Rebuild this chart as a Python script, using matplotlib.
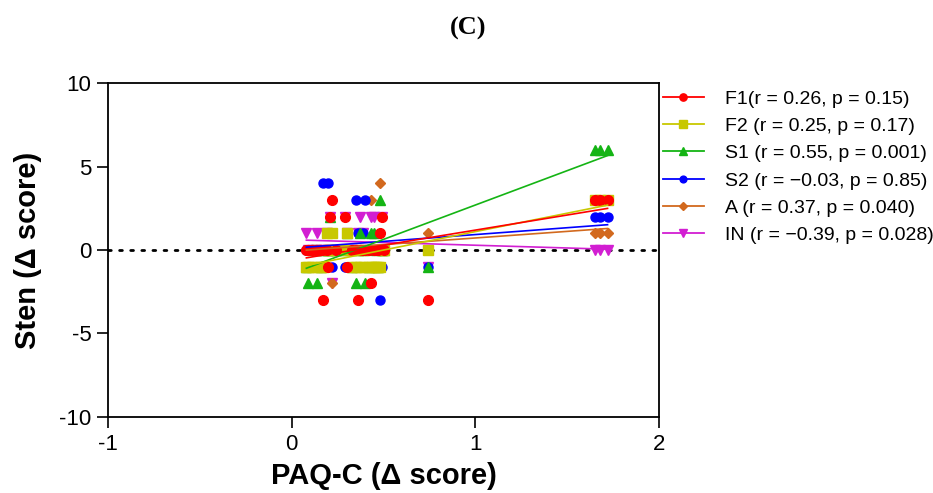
import numpy as np
import matplotlib
matplotlib.use('Agg')
import matplotlib.pyplot as plt
from matplotlib.lines import Line2D

plt.rcParams['font.family'] = ['Liberation Sans', 'DejaVu Sans']

# PAQ-C change per participant (shared by all six subscales)
paq_c = [0.08, 0.09, 0.11, 0.13, 0.14, 0.16, 0.17, 0.19, 0.20, 0.21, 0.22, 0.24,
         0.29, 0.30, 0.33, 0.35, 0.36, 0.37, 0.39, 0.40, 0.42, 0.43, 0.45, 0.46,
         0.47, 0.48, 0.49, 0.50, 0.74, 1.65, 1.68, 1.72]

# sten change per subscale
f1 = [0, 0, 0, 0, 0, 0, -3, 0, -1, 2, 3, 0, 2, -1, 0, 0, -3, 0, 0, 0, 0, -2, 0, 0,
      0, 1, 2, 0, -3, 3, 3, 3]
f2 = [-1, -1, -1, 0, -1, -1, -1, 1, 0, 0, 1, 0, 0, 1, -1, -1, 0, -1, -1, 0, -1, -1, -1, -1,
      -1, -1, 0, 0, 0, 3, 3, 3]
s1 = [-1, -2, 0, 0, -2, -1, 0, 0, 0, 2, 0, 0, 0, 1, -1, -2, 0, 1, 0, -2, -1, 1, 1, 0,
      -1, 3, 0, 0, -1, 6, 6, 6]
s2 = [0, 0, 0, 0, 0, 0, 4, 0, 4, 0, -1, 0, -1, 0, 0, 3, 1, 0, 1, 3, 0, 0, 0, 0,
      0, -3, -1, 0, -1, 2, 2, 2]
a = [0, 0, 0, 0, 0, 0, 0, 0, 0, 0, -2, 0, 0, 0, 0, 0, 0, 0, 0, 0, 0, 3, 0, 0,
     0, 4, 0, 0, 1, 1, 1, 1]
inn = [1, 0, 0, 0, 1, 0, 0, 1, 0, 2, -2, 0, 2, 1, 0, 0, 1, 2, 1, 0, 0, 2, 2, 0,
       0, 0, 2, 0, -1, 0, 0, 0]

labels = ['F1(r = 0.26, p = 0.15)', 'F2 (r = 0.25, p = 0.17)', 'S1 (r = 0.55, p = 0.001)',
          'S2 (r = \u22120.03, p = 0.85)', 'A (r = 0.37, p = 0.040)', 'IN (r = \u22120.39, p = 0.028)']

series = [f1, f2, s1, s2, a, inn]
colors = ['#ff0000', '#c8c800', '#14b414', '#0000ff', '#d2691e', '#d21ed2']
markers = ['o', 's', '^', 'o', 'D', 'v']
msizes = [7, 7, 7, 6.5, 5, 7]

fig = plt.figure(figsize=(9.33, 4.93), dpi=100)
ax = fig.add_axes([0.1158, 0.1542, 0.5905, 0.6774])

ax.axhline(0, color='black', linestyle=(0, (1, 3)), lw=2, dash_capstyle='round', zorder=1)

x = np.array(paq_c)
# draw last series first so F1 sits on top
for i in reversed(range(len(series))):
    y = np.array(series[i])
    ax.plot(x, y, linestyle='none', marker=markers[i], ms=msizes[i], color=colors[i],
            mec=colors[i], zorder=2 + (len(series) - i))
for i in reversed(range(len(series))):
    y = np.array(series[i])
    k, b = np.polyfit(x, y, 1)
    xs = np.array([x.min(), x.max()])
    ax.plot(xs, k * xs + b, color=colors[i], lw=1.2, zorder=10)

ax.set_xlim(-1, 2)
ax.set_ylim(-10, 10)
ax.set_xticks([-1, 0, 1, 2])
ax.set_yticks([-10, -5, 0, 5, 10])
ax.set_xticklabels(['-1', '0', '1', '2'])
ax.set_yticklabels(['-10', '-5', '0', '5', '10'])
ax.tick_params(direction='out', length=8, width=1.2, labelsize=16, pad=4)
for sp in ax.spines.values():
    sp.set_linewidth(1.3)

ax.set_xlabel('PAQ-C (\u0394 score)', fontsize=21, fontweight='bold', labelpad=5)
ax.set_ylabel('Sten (\u0394 score)', fontsize=21, fontweight='bold', labelpad=12)

fig.text(0.5016, 0.943, '(C)', fontsize=19, fontweight='bold', family='Liberation Serif',
         ha='center', va='center')

handles = [Line2D([0], [0], color=colors[i], marker=markers[i], ms=msizes[i] * 0.75,
                  lw=1.3) for i in range(len(series))]
fig.legend(handles, labels, loc='upper left', bbox_to_anchor=(663 / 933, 1 - 90 / 493),
           frameon=False, fontsize=14, handlelength=2.1, handletextpad=1.1,
           labelspacing=0.5, borderpad=0, borderaxespad=0)

fig.savefig('out.png', dpi=100)
